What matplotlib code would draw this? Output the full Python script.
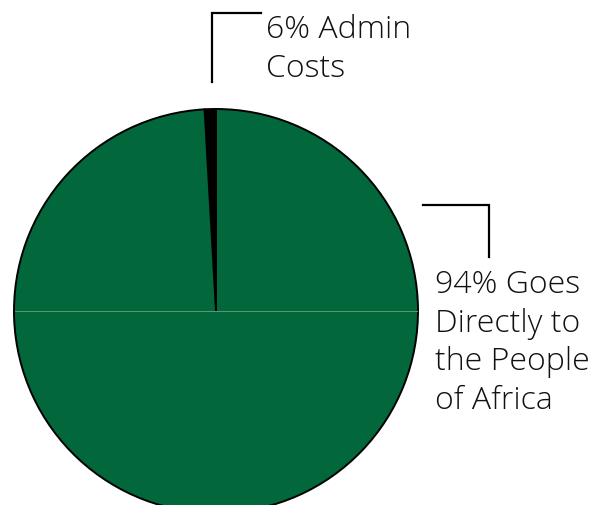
import matplotlib.pyplot as plt
from matplotlib.lines import Line2D

# data
labels = ["6% Admin\nCosts", "94% Goes\nDirectly to\nthe People\nof Africa"]
shares = [0.9, 99.1]  # slice sizes as drawn in the picture
colors = ["#000000", "#02673A"]

W, H = 595, 506
fig = plt.figure(figsize=(W / 100, H / 100), dpi=100)


def px(x, y):
    return x / W, 1 - y / H


# pie axes: centre (216, 312), radius 202 px
cx, cy, r = 216, 312, 202
ax = fig.add_axes([(cx - r) / W, 1 - (cy + r) / H, 2 * r / W, 2 * r / H])
ax.pie(shares, colors=colors, startangle=90, counterclock=True, radius=1,
       wedgeprops=dict(edgecolor="black", linewidth=1.4))
ax.set_xlim(-1, 1)
ax.set_ylim(-1, 1)
ax.set_aspect("equal")
ax.axis("off")
# faint seam across the middle
ax.plot([-0.995, 0.995], [0, 0], color="#5c9a70", linewidth=0.7)

# leader lines
lw = 1.6
for pts in ([(212, 83), (212, 14), (261, 14)],
            [(423, 206), (489, 206), (489, 258)]):
    xs, ys = zip(*[px(*p) for p in pts])
    fig.add_artist(Line2D(xs, ys, color="black", linewidth=lw,
                          solid_joinstyle="miter"))

font = dict(family="Open Sans", fontweight="light", fontsize=23,
            color="#111111", linespacing=1.28, va="top", ha="left")
fig.text(*px(266, 14), labels[0], **font)
fig.text(*px(435, 269), labels[1], **font)

fig.savefig("out.png", dpi=100)
